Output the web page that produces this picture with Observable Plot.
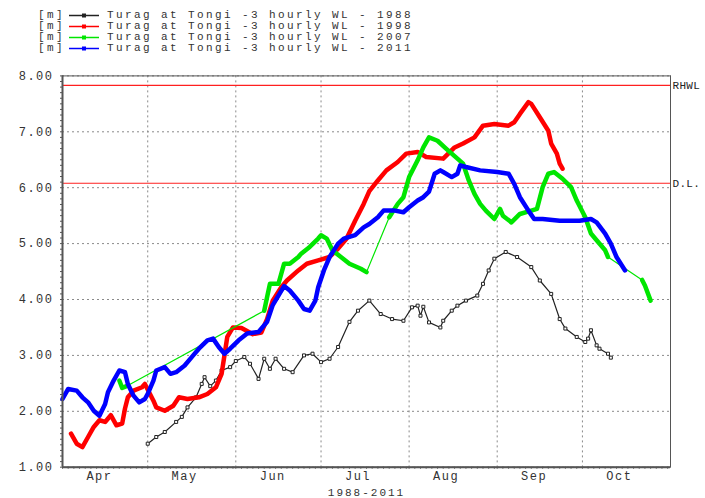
<!DOCTYPE html>
<html><head><meta charset="utf-8">
<script src="https://cdn.jsdelivr.net/npm/d3@7"></script>
<script src="https://cdn.jsdelivr.net/npm/@observablehq/plot@0.6"></script>
<style>
html,body{margin:0;padding:0;background:#fff;overflow:hidden;width:705px;height:498px}
#legend{position:relative;height:58px;font-family:"Liberation Mono",monospace;font-size:11px;letter-spacing:2.4px;color:#333}
.row{position:absolute;left:0;width:705px;height:11px;line-height:11px;white-space:nowrap}
.row span{position:absolute;top:0}
.row svg{position:absolute;top:0}
#chart svg{display:block}
</style>
</head><body>
<div id="legend"></div>
<div id="chart"></div>
<script>
// ---- data (dates are MM-DD within the Apr–Oct season) ----
const seriesNames = ["Turag at Tongi -3 hourly WL - 1988","Turag at Tongi -3 hourly WL - 1998","Turag at Tongi -3 hourly WL - 2007","Turag at Tongi -3 hourly WL - 2011"];
const seriesUnit = "[m]";
const seriesColors = ["#222222","#ff0000","#00e600","#0000ff"];

const dates1988 = ["05-01","05-04","05-07","05-11","05-13","05-15","05-18","05-20","05-21","05-23","05-25","05-27","05-30","06-01","06-04","06-06","06-09","06-11","06-13","06-15","06-18","06-21","06-25","06-28","07-01","07-04","07-07","07-11","07-14","07-18","07-22","07-26","07-30","08-02","08-04","08-05","08-06","08-08","08-12","08-13","08-16","08-18","08-21","08-25","08-27","08-29","08-31","09-04","09-08","09-13","09-16","09-20","09-23","09-25","09-29","10-02","10-03","10-04","10-06","10-07","10-10","10-11"];
const wl1988 = [1.42,1.54,1.63,1.81,1.90,2.07,2.25,2.49,2.61,2.45,2.55,2.73,2.79,2.90,2.97,2.85,2.58,2.94,2.76,2.94,2.76,2.70,3.00,3.03,2.88,2.94,3.15,3.60,3.80,3.98,3.74,3.65,3.62,3.86,3.89,3.71,3.87,3.59,3.50,3.62,3.80,3.89,3.98,4.07,4.28,4.52,4.73,4.85,4.76,4.58,4.34,4.10,3.65,3.48,3.33,3.24,3.30,3.45,3.18,3.12,3.03,2.96];

const dates1998 = ["04-04","04-06","04-08","04-10","04-12","04-14","04-16","04-18","04-20","04-22","04-23","04-24","04-26","04-29","04-30","05-03","05-04","05-07","05-10","05-12","05-15","05-19","05-22","05-25","05-27","05-28","05-29","05-31","06-03","06-07","06-10","06-12","06-14","06-17","06-19","06-23","06-26","06-30","07-04","07-07","07-10","07-13","07-16","07-18","07-21","07-24","07-28","07-31","08-04","08-07","08-13","08-17","08-20","08-24","08-27","08-31","09-05","09-07","09-09","09-12","09-13","09-16","09-19","09-20","09-22","09-23","09-24"];
const wl1998 = [1.60,1.42,1.36,1.54,1.72,1.84,1.81,1.93,1.75,1.78,2.05,2.25,2.37,2.43,2.49,2.19,2.07,2.01,2.10,2.25,2.22,2.25,2.31,2.43,2.67,3.00,3.33,3.50,3.49,3.38,3.41,3.65,3.98,4.22,4.34,4.52,4.64,4.70,4.76,4.91,5.09,5.41,5.71,5.94,6.13,6.31,6.46,6.61,6.64,6.55,6.52,6.72,6.79,6.90,7.11,7.14,7.11,7.17,7.32,7.53,7.50,7.26,7.02,6.79,6.61,6.43,6.34];

const dates2007 = ["04-21","04-22","04-24","06-11","06-12","06-13","06-16","06-18","06-20","06-23","06-24","06-27","06-30","07-01","07-03","07-05","07-08","07-11","07-15","07-17","07-25","07-28","07-30","08-01","08-04","08-06","08-08","08-11","08-14","08-18","08-20","08-22","08-24","08-26","08-28","08-31","09-02","09-03","09-06","09-09","09-13","09-15","09-17","09-19","09-21","09-24","09-27","09-29","10-02","10-04","10-06","10-09","10-10","10-22","10-23","10-25"];
const wl2007 = [2.55,2.42,2.46,3.80,4.04,4.28,4.28,4.64,4.64,4.76,4.82,4.94,5.09,5.15,5.09,4.88,4.76,4.64,4.55,4.49,5.47,5.71,5.83,6.19,6.49,6.72,6.90,6.84,6.70,6.52,6.43,6.13,5.89,5.71,5.59,5.44,5.62,5.50,5.38,5.53,5.59,5.62,6.01,6.25,6.28,6.16,6.01,5.77,5.47,5.18,5.06,4.88,4.76,4.35,4.25,3.98];
// dates where recording resumes after a gap (gap bridged by a thin line)
const gapResume2007 = ["06-11","07-25","10-22"];

const dates2011 = ["04-01","04-03","04-06","04-08","04-10","04-12","04-14","04-16","04-17","04-19","04-21","04-23","04-24","04-26","04-28","04-30","05-01","05-03","05-04","05-07","05-09","05-11","05-14","05-17","05-19","05-22","05-24","05-26","05-28","05-30","06-02","06-05","06-09","06-12","06-14","06-18","06-20","06-23","06-25","06-27","06-29","06-30","07-02","07-04","07-07","07-09","07-13","07-16","07-18","07-21","07-23","07-27","07-30","08-01","08-04","08-06","08-08","08-10","08-12","08-13","08-16","08-18","08-19","08-21","08-26","09-01","09-05","09-07","09-09","09-12","09-14","09-17","09-23","09-30","10-04","10-06","10-09","10-11","10-13","10-16"];
const wl2011 = [2.22,2.40,2.37,2.25,2.16,2.01,1.92,2.13,2.34,2.55,2.73,2.70,2.49,2.28,2.16,2.22,2.31,2.55,2.73,2.79,2.67,2.70,2.82,3.00,3.12,3.27,3.30,3.15,3.03,3.12,3.27,3.39,3.42,3.60,3.90,4.24,4.16,3.98,3.83,3.80,3.98,4.22,4.52,4.76,5.00,5.09,5.15,5.29,5.35,5.47,5.59,5.59,5.56,5.65,5.77,5.83,5.93,6.25,6.31,6.28,6.19,6.25,6.40,6.37,6.31,6.28,6.25,6.07,5.83,5.59,5.44,5.44,5.41,5.41,5.44,5.38,5.18,5.00,4.76,4.52];

const refLabels = ["RHWL","D.L."];
const refLevels = [7.83, 6.08];
const yTicks = [1,2,3,4,5,6,7,8];
const monthStartLabels = ["04-01","05-01","06-01","07-01","08-01","09-01","10-01","11-01"];
const monthLabelDates = ["04-14","05-14","06-14","07-14","08-14","09-14","10-14"];
const axisTitle = "1988-2011";

// ---- build ----
const parse = s => new Date(Date.UTC(2001, +s.slice(0,2) - 1, +s.slice(3,5)));
function table(dates, vals, resumes = []) {
  let run = 0;
  return dates.map((d, i) => {
    if (resumes.includes(d)) run++;
    return {date: parse(d), wl: vals[i], run};
  });
}
const s1988 = table(dates1988, wl1988);
const s1998 = table(dates1998, wl1998);
const s2007 = table(dates2007, wl2007, gapResume2007);
const s2011 = table(dates2011, wl2011);

const monthStarts = monthStartLabels.map(parse);
const x0 = monthStarts[0], x1 = monthStarts[monthStarts.length - 1];
const fmtMonth = d3.utcFormat("%b");

// legend
const legend = document.getElementById("legend");
seriesNames.forEach((name, i) => {
  const row = document.createElement("div");
  row.className = "row";
  row.style.top = (9.5 + 11 * i) + "px";
  row.innerHTML = `<span style="left:38px">${seriesUnit}</span>` +
    `<svg width="32" height="11" style="left:68px"><line x1="1" y1="5.5" x2="31" y2="5.5" stroke="${seriesColors[i]}" stroke-width="1.5"/><rect x="14" y="3.5" width="4" height="4" fill="${seriesColors[i]}"/></svg>` +
    `<span style="left:107px">${name}</span>`;
  legend.appendChild(row);
});

const gridStyle = {stroke: "#8a8a8a", strokeOpacity: 1, strokeWidth: 1, strokeDasharray: "2,3"};

const chart = Plot.plot({
  width: 705, height: 440,
  marginLeft: 62, marginRight: 35, marginTop: 17.4, marginBottom: 31.3,
  x: {type: "utc", domain: [x0, x1]},
  y: {domain: [1, 8]},
  marks: [
    Plot.gridY(yTicks, gridStyle),
    Plot.gridX(monthStarts, gridStyle),
    Plot.axisY(d3.range(10, 81, 1).map(v => v / 10), {tickSize: 2, tickFormat: () => "", label: null, stroke: "#555"}),
    Plot.axisX(d3.utcDay.every(2).range(x0, x1), {tickSize: 2, tickFormat: () => "", label: null, stroke: "#555"}),
    Plot.axisY(yTicks, {tickSize: 0, tickPadding: 9, tickFormat: d => d.toFixed(2), label: null}),
    Plot.axisX(monthLabelDates.map(parse), {tickSize: 0, tickPadding: 4, tickFormat: fmtMonth, label: null}),
    Plot.text([axisTitle], {text: d => d, frameAnchor: "bottom", dy: 25.5, lineAnchor: "middle", fontSize: 11}),
    Plot.ruleY(refLevels, {stroke: "#ff2020", strokeWidth: 1.2}),
    Plot.text(refLevels, {x: x1, y: d => d, text: (d, i) => refLabels[i], textAnchor: "start", dx: 2, fill: "#222", fontSize: 11}),
    // 1988
    Plot.line(s1988, {x: "date", y: "wl", stroke: seriesColors[0], strokeWidth: 1.2}),
    Plot.dot(s1988, {x: "date", y: "wl", symbol: "square", r: 1.7, stroke: seriesColors[0], fill: "white", strokeWidth: 1}),
    // 1998
    Plot.line(s1998, {x: "date", y: "wl", stroke: seriesColors[1], strokeWidth: 4.5, strokeLinejoin: "round"}),
    // 2007
    Plot.line(s2007, {x: "date", y: "wl", stroke: seriesColors[2], strokeWidth: 1.2}),
    Plot.line(s2007, {x: "date", y: "wl", z: "run", stroke: seriesColors[2], strokeWidth: 4.5, strokeLinejoin: "round"}),
    // 2011
    Plot.line(s2011, {x: "date", y: "wl", stroke: seriesColors[3], strokeWidth: 4.5, strokeLinejoin: "round"}),
    Plot.frame({stroke: "#555", strokeWidth: 1}),
    Plot.ruleX([x0], {stroke: "#555", strokeWidth: 2}),
    Plot.ruleY([1], {stroke: "#555", strokeWidth: 2})
  ]
});
chart.style.fontFamily = "'Liberation Mono', monospace";
chart.style.fontSize = "12px";
chart.style.letterSpacing = "1.5px";
chart.style.color = "#333";
chart.style.overflow = "visible";
chart.querySelectorAll("text").forEach(t => {
  if (refLabels.includes(t.textContent)) t.style.letterSpacing = "0.3px";
  if (t.textContent === axisTitle) t.style.letterSpacing = "2px";
});
document.getElementById("chart").appendChild(chart);
</script>
</body></html>
